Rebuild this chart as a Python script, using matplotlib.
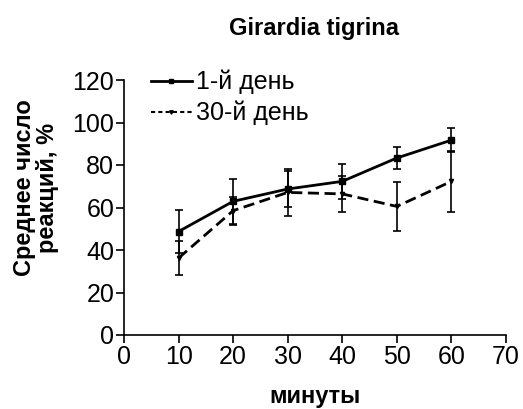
import matplotlib
matplotlib.use("Agg")
import matplotlib.pyplot as plt
from matplotlib.lines import Line2D

plt.rcParams['font.family'] = ['Liberation Sans', 'DejaVu Sans']

# данные
minutes = [10, 20, 30, 40, 50, 60]
day1 = [48.7, 62.9, 68.7, 72.3, 83.3, 91.7]
day1_err = [10, 10.5, 8.5, 8.4, 5, 5.5]
day30 = [36.2, 58.5, 67.1, 66.4, 60.5, 72.3]
day30_err = [8, 6.5, 11, 8.5, 11.5, 14.5]
labels = ['1-й день', '30-й день']

fig = plt.figure(figsize=(5.23, 4.09), dpi=100)
ax = fig.add_axes([124/523, 74/409, 382/523, 255/409])

ax.errorbar(minutes, day1, yerr=day1_err, color='black', lw=2, marker='s', ms=4,
            capsize=3, elinewidth=1.2, capthick=1.2)
ax.errorbar(minutes, day30, yerr=day30_err, color='black', lw=2, ls=(0, (4, 2)), marker='v', ms=3,
            capsize=3, elinewidth=1.2, capthick=1.2)

ax.set_xlim(0, 70)
ax.set_ylim(0, 120)
ax.set_xticks(range(0, 71, 10))
ax.set_yticks(range(0, 121, 20))
ax.tick_params(labelsize=18, width=1.2, length=6, direction='out', pad=1)
for s in ['top', 'right']:
    ax.spines[s].set_visible(False)
for s in ['left', 'bottom']:
    ax.spines[s].set_linewidth(1.2)

fig.text(315/523, 1 - 396/409, 'минуты', fontsize=17, fontweight='bold', ha='center', va='center')
fig.text(36/523, 1 - 188/409, 'Среднее число\nреакций, %', fontsize=17, fontweight='bold',
         rotation=90, ha='center', va='center', multialignment='center', linespacing=1.0)
fig.text(314/523, 1 - 28/409, 'Girardia tigrina', fontsize=17, fontweight='bold', ha='center', va='center')

handles = [Line2D([], [], color='black', lw=2, marker='s', ms=3),
           Line2D([], [], color='black', lw=1.5, ls=(0, (2, 1.5)), marker='v', ms=2.5)]
ax.legend(handles, labels, loc='upper left', bbox_to_anchor=(0.07, 1.04), frameon=False, fontsize=18,
          handlelength=1.65, handletextpad=0.18, labelspacing=0.26, borderaxespad=0, borderpad=0)

fig.savefig('out.png', dpi=100)
